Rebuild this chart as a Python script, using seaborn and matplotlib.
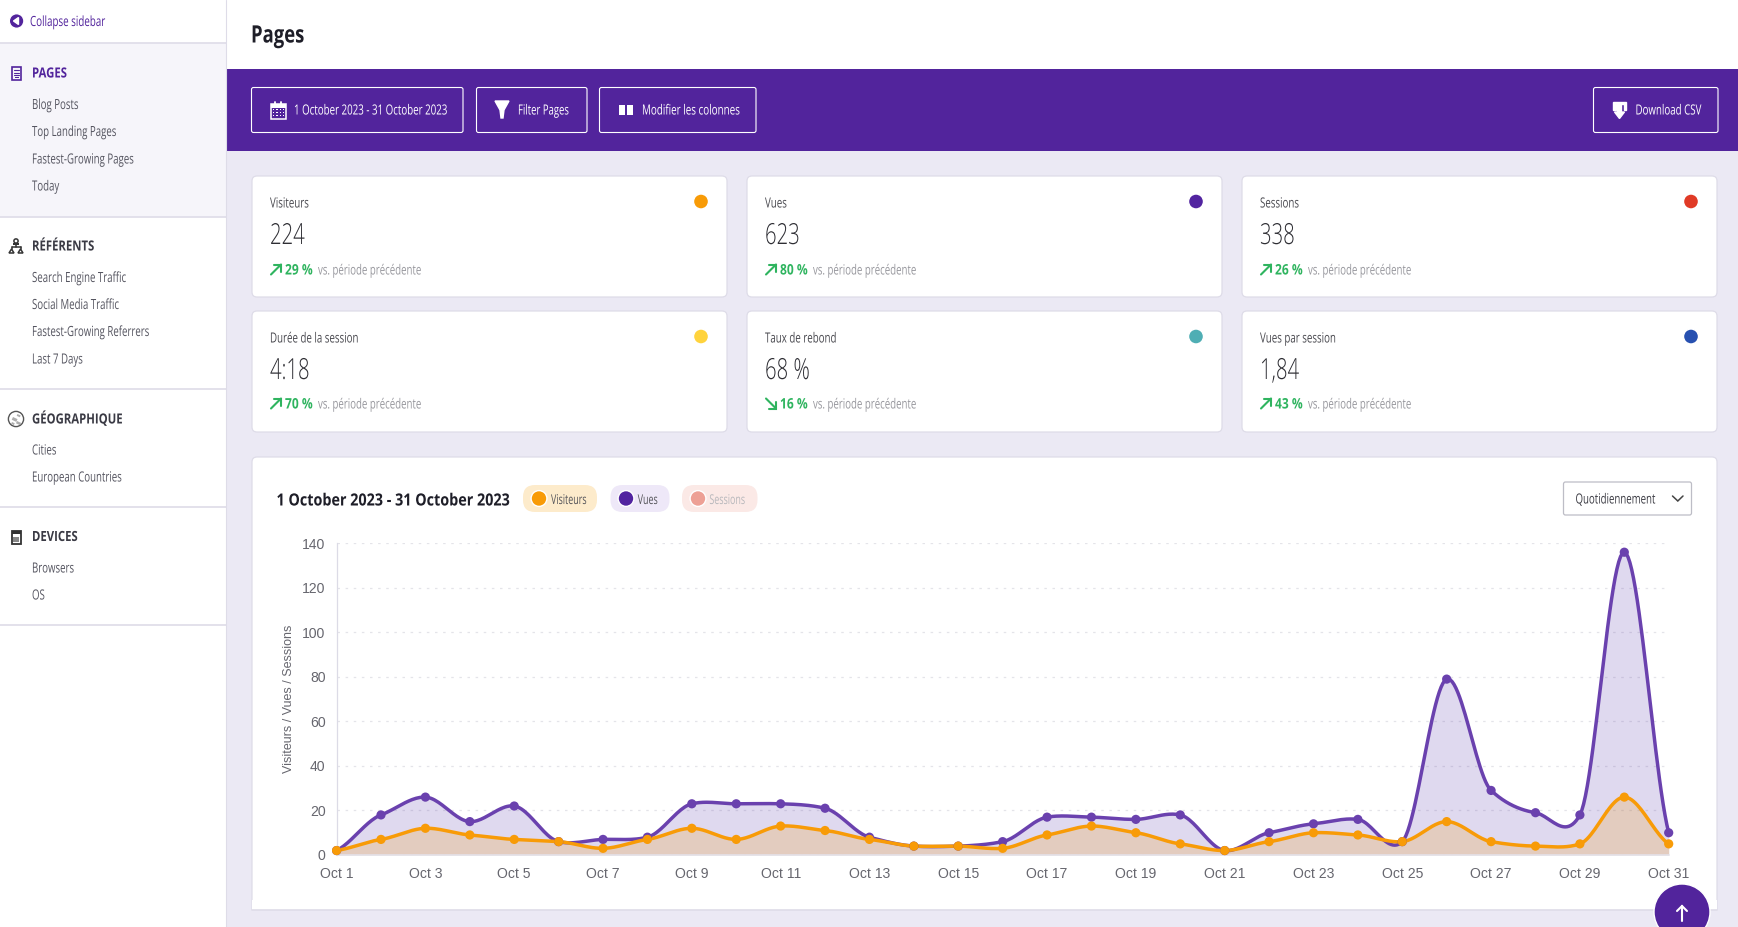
import numpy as np
import pandas as pd
import matplotlib
matplotlib.use("Agg")
import matplotlib.pyplot as plt
import seaborn as sns
from matplotlib.patches import FancyBboxPatch, Rectangle, Circle, Polygon
from matplotlib.patheffects import AbstractPathEffect
from matplotlib.transforms import Affine2D

# ---- data ----
days = list(range(1, 32))
visiteurs = [2, 7, 12, 9, 7, 6, 3, 7, 12, 7, 13, 11, 7, 4, 4, 3, 9, 13, 10, 5, 2, 6, 10, 9, 6, 15, 6, 4, 5, 26, 5]
vues = [2, 18, 26, 15, 22, 6, 7, 8, 23, 23, 23, 21, 8, 4, 4, 6, 17, 17, 16, 18, 2, 10, 14, 16, 6, 79, 29, 19, 18, 136, 10]
y_ticks = [0, 20, 40, 60, 80, 100, 120, 140]
tick_days = days[::2]
tick_labels = [f"Oct {d}" for d in tick_days]

card_labels = ["Visiteurs", "Vues", "Sessions", "Durée de la session", "Taux de rebond", "Vues par session"]
card_values = ["224", "623", "338", "4:18", "68 %", "1,84"]
card_trends = ["29 %", "80 %", "26 %", "70 %", "16 %", "43 %"]
card_colors = ["#F89B07", "#5224A0", "#E03A26", "#FFD33D", "#4FAEB4", "#2750B0"]
card_up = [True, True, True, True, False, True]

PURPLE = "#52249C"
LINE_PURPLE = "#6A41AE"
ORANGE = "#F89B07"
BG = "#EBE9F4"
BORDER = "#DEDCE8"
GREEN = "#2FB45F"

sns.set_theme(style="white")
plt.rcParams["font.family"] = ["Open Sans", "DejaVu Sans"]

fig = plt.figure(figsize=(17.38, 9.27), dpi=100, facecolor=BG)


class Condense(AbstractPathEffect):
    """Narrow real text horizontally around its origin."""
    def __init__(self, sx):
        super().__init__()
        self.sx = sx

    def draw_path(self, renderer, gc, tpath, affine, rgbFace=None):
        x0 = affine.get_matrix()[0, 2]
        aff = affine + Affine2D().translate(-x0, 0).scale(self.sx, 1).translate(x0, 0)
        renderer.draw_path(gc, tpath, aff, rgbFace)


def pixel_axes(z):
    a = fig.add_axes([0, 0, 1, 1], zorder=z)
    a.set_xlim(0, 1738)
    a.set_ylim(927, 0)
    a.axis("off")
    a.patch.set_alpha(0)
    return a


bg = pixel_axes(0)
top = pixel_axes(5)


def T(x, y, s, px, color="#555555", weight="normal", sx=0.7):
    return bg.text(x, y, s, fontsize=px * 0.72, color=color, fontweight=weight,
                   ha="left", va="baseline", path_effects=[Condense(sx)])


def R(x0, y0, x1, y1, fc, ec="none", lw=0, r=0, a=None):
    a = a or bg
    if r:
        p = FancyBboxPatch((x0, y0), x1 - x0, y1 - y0, boxstyle=f"round,pad=0,rounding_size={r}",
                           fc=fc, ec=ec, lw=lw)
    else:
        p = Rectangle((x0, y0), x1 - x0, y1 - y0, fc=fc, ec=ec, lw=lw)
    a.add_patch(p)
    return p


def L(xs, ys, c, lw=1.0, a=None):
    (a or bg).plot(xs, ys, color=c, lw=lw, solid_capstyle="round", solid_joinstyle="miter")


# ---- page chrome ----
R(0, 0, 226, 927, "white")
R(226, 0, 1738, 69, "white")
R(0, 43, 226, 217, "#F6F5FA")
for yy in [43, 217, 389, 507, 625]:
    L([0, 226], [yy, yy], BORDER, 1.2)
L([226, 226], [0, 927], BORDER, 0.8)
R(226, 69, 1738, 151, PURPLE)

# sidebar
bg.add_patch(Circle((16.6, 21), 7.3, fc=PURPLE))
bg.add_patch(Polygon([[13.5, 21], [18.5, 17.5], [18.5, 24.5]], fc="white"))
T(30, 26, "Collapse sidebar", 14, PURPLE, sx=0.7)
T(251, 42.5, "Pages", 24, "#1E1E28", "bold", sx=0.77)

sections = [("PAGES", 77.5, PURPLE), ("RÉFÉRENTS", 250.5, "#3A3A44"),
            ("GÉOGRAPHIQUE", 423.5, "#3A3A44"), ("DEVICES", 541, "#3A3A44")]
for s, y, c in sections:
    T(32, y, s, 14, c, "bold", sx=0.81)
links = [("Blog Posts", 109), ("Top Landing Pages", 136), ("Fastest-Growing Pages", 163.5), ("Today", 190.5),
         ("Search Engine Traffic", 282), ("Social Media Traffic", 309), ("Fastest-Growing Referrers", 336),
         ("Last 7 Days", 363.5), ("Cities", 454.5), ("European Countries", 481.5),
         ("Browsers", 572.5), ("OS", 599.5)]
for s, y in links:
    T(32, y, s, 14, "#555560", sx=0.69)

# sidebar icons
R(11.5, 66.5, 20.5, 79.5, "none", PURPLE, 1.2)
for yy, x1 in [(70, 18.5), (72.5, 18.5), (75, 18.5)]:
    L([13.5, x1], [yy, yy], PURPLE, 0.8)
R(15, 76.5, 18.5, 78, PURPLE)
L([16, 16], [243.5, 247], "#333", 1.1)
L([11.5, 20.5], [247, 247], "#333", 1.1)
L([11.5, 11.5], [247, 249], "#333", 1.1)
L([20.5, 20.5], [247, 249], "#333", 1.1)
bg.add_patch(Circle((16, 241), 2.1, fc="none", ec="#333", lw=1.1))
R(13, 243, 19, 244.5, "#333")
bg.add_patch(Polygon([[9, 253], [11.5, 249], [14, 253]], fc="none", ec="#333", lw=1.1))
bg.add_patch(Polygon([[18, 253], [20.5, 249], [23, 253]], fc="none", ec="#333", lw=1.1))
bg.add_patch(Circle((16, 419), 7.6, fc="none", ec="#555", lw=1.0))
for dx, dy, w, h in [(-3, -2, 5, 3), (1, 2, 4.5, 2.5), (-4, 3, 3, 2), (1.5, -5, 3.5, 2)]:
    bg.add_patch(Rectangle((16 + dx, 419 + dy), w, h, fc="#999", ec="none", alpha=0.8, angle=25))
R(11.5, 530.5, 20.5, 543.5, "none", "#333", 1.3)
R(11.5, 530.5, 20.5, 534, "#333")
R(13, 536.5, 19, 541.5, "#888")

# toolbar buttons
buttons = [(251.5, 463), (476.5, 587), (599.5, 756), (1593.5, 1718)]
for x0, x1 in buttons:
    R(x0, 87.5, x1, 132.5, "none", "white", 0.8, r=2)
T(294, 114.5, "1 October 2023 - 31 October 2023", 14, "white", sx=0.695)
T(518, 114.5, "Filter Pages", 14, "white", sx=0.68)
T(642, 114.5, "Modifier les colonnes", 14, "white", sx=0.704)
T(1635.5, 114.5, "Download CSV", 14, "white", sx=0.695)
# calendar icon
R(270.5, 104, 285.5, 118.5, "none", "white", 1.1)
R(270.5, 104, 285.5, 107.5, "white")
for xx in [275, 281]:
    L([xx, xx], [101.5, 105], "white", 1.3)
for xx in [273.5, 277, 280.5, 283.5]:
    for yy in [109.5, 112.5, 115.5]:
        R(xx - 0.9, yy - 0.9, xx + 0.9, yy + 0.9, "white")
# funnel
bg.add_patch(Polygon([[495, 101], [509, 101], [504, 110], [503, 118], [501, 118], [500, 110]], fc="white"))
# columns
R(619, 105, 625, 115, "white")
R(627, 105, 633, 115, "white")
# download
bg.add_patch(Polygon([[1613, 102], [1626, 102], [1626, 110], [1623.5, 110], [1623.5, 104], [1615.5, 104], [1615.5, 110], [1613, 110]], fc="white"))
bg.add_patch(Polygon([[1617.5, 105], [1621.5, 105], [1621.5, 112], [1624.5, 112], [1619.5, 118.5], [1614.5, 112], [1617.5, 112]], fc="white"))

# KPI cards
card_x = [252, 747, 1242]
card_y = [176, 311]
for i in range(6):
    x0 = card_x[i % 3]
    row = i // 3
    y0 = card_y[row]
    R(x0, y0, x0 + 475, y0 + 121, "white", BORDER, 0.9, r=5)
    T(x0 + 18, y0 + 31.5, card_labels[i], 14, "#4A4A50", sx=0.695)
    T(x0 + 18, y0 + 68, card_values[i], 29, "#2E2E34", "light", sx=0.7)
    by = y0 + 98.5 if row == 0 else y0 + 97.5
    T(x0 + 33, by, card_trends[i], 14.5, GREEN, "bold", sx=0.83)
    T(x0 + 66, by, "vs. période précédente", 14, "#98989E", sx=0.69)
    ax0, ax1 = x0 + 19, x0 + 29
    if card_up[i]:
        L([ax0, ax1], [by, by - 10], GREEN, 1.5)
        L([ax0 + 3, ax1, ax1], [by - 10, by - 10, by - 3], GREEN, 1.5)
    else:
        L([ax0, ax1], [by - 10, by], GREEN, 1.5)
        L([ax0 + 3, ax1, ax1], [by, by, by - 7], GREEN, 1.5)
    bg.add_patch(Circle((x0 + 449, y0 + 25.5), 7.5, fc=card_colors[i]))

# chart card
R(252, 457, 1717, 915, "white", BORDER, 0.9, r=5)
bg.add_patch(Rectangle((240, 910), 1498, 17, fc=BG, ec="none"))
R(252, 900, 1717, 910, "white", "none", 0)
L([252, 1717], [910, 910], BORDER, 1.2)
T(276.5, 505.5, "1 October 2023 - 31 October 2023", 16.8, "#1E1E28", "bold", sx=0.855)

pills = [(523, 597, "#FDEBCB", ORANGE, 539, 551, "Visiteurs", "#55555A", 0.66),
         (610.5, 669.5, "#EEE8F8", "#5224A0", 626, 637.7, "Vues", "#55555A", 0.66),
         (682, 757.5, "#FBE9E6", "#EDA095", 698, 709.4, "Sessions", "#B8B8BC", 0.66)]
for x0, x1, fc, dot, cx, tx, lab, col, sx in pills:
    R(x0, 485, x1, 512, fc, r=12)
    bg.add_patch(Circle((cx, 498.5), 7.9, fc=dot))
    T(tx, 504, lab, 13.5, col, sx=sx)

# select box
R(1563.5, 482, 1691.5, 515, "white", "#BDBDC6", 0.9, r=2)
T(1575.5, 503.5, "Quotidiennement", 14, "#3C3C44", sx=0.69)
L([1672.5, 1677.8, 1683], [496, 501, 496], "#444", 1.1)

# ---- chart ----
AX_L, AX_R, AX_T, AX_B = 336.6, 1668.7, 543.3, 855.0
ax = fig.add_axes([AX_L / 1738, 1 - AX_B / 927, (AX_R - AX_L) / 1738, (AX_B - AX_T) / 927], zorder=2)
ax.patch.set_alpha(0)

TANGENT = 0.62


def curve(x, y, n=24):
    """Smooth cubic drawing path through the read values."""
    x = np.asarray(x, float)
    y = np.asarray(y, float)
    m = np.gradient(y, x) * TANGENT
    t = np.linspace(0, 1, n, endpoint=False)
    xs, ys = [], []
    for i in range(len(x) - 1):
        dx = x[i + 1] - x[i]
        xs.append(x[i] + t * dx)
        ys.append((2 * t ** 3 - 3 * t ** 2 + 1) * y[i] + (t ** 3 - 2 * t ** 2 + t) * dx * m[i]
                  + (-2 * t ** 3 + 3 * t ** 2) * y[i + 1] + (t ** 3 - t ** 2) * dx * m[i + 1])
    return np.r_[np.concatenate(xs), x[-1]], np.r_[np.concatenate(ys), y[-1]]


raw = pd.DataFrame({"day": days * 2, "value": vues + visiteurs,
                    "serie": ["Vues"] * 31 + ["Visiteurs"] * 31})
palette = {"Vues": LINE_PURPLE, "Visiteurs": ORANGE}
smooth_rows = []
for name, vals in (("Vues", vues), ("Visiteurs", visiteurs)):
    sx_, sy_ = curve(days, vals)
    smooth_rows.append(pd.DataFrame({"day": sx_, "value": sy_, "serie": name}))
    ax.fill_between(sx_, np.maximum(sy_, 0), 0, lw=0, zorder=1,
                    color="#512DA8" if name == "Vues" else "#F59B00",
                    alpha=0.18 if name == "Vues" else 0.2)
smooth = pd.concat(smooth_rows, ignore_index=True)

sns.lineplot(data=smooth, x="day", y="value", hue="serie", palette=palette, hue_order=["Vues", "Visiteurs"],
             linewidth=2.5, estimator=None, sort=False, legend=False, ax=ax, zorder=3, clip_on=False)
sns.scatterplot(data=raw, x="day", y="value", hue="serie", palette=palette, hue_order=["Vues", "Visiteurs"],
                s=44, linewidth=0, legend=False, ax=ax, zorder=4, clip_on=False)

ax.set_xlim(1, 31)
ax.set_ylim(0, 140)
ax.set_xticks(tick_days)
ax.set_xticklabels(tick_labels)
ax.set_yticks(y_ticks)
TICKFONT = ["Liberation Sans", "DejaVu Sans"]
ax.tick_params(axis="x", length=5.5, width=0.9, color="#DCDBE6", labelsize=10.1, labelcolor="#66666E", pad=3.5)
ax.tick_params(axis="y", length=6, width=0.8, color="#DCDBE6", labelsize=10.1, labelcolor="#66666E", pad=2)
for lab in ax.get_xticklabels() + ax.get_yticklabels():
    lab.set_fontfamily(TICKFONT)
ax.set_xlabel("")
ax.set_ylabel("Visiteurs / Vues / Sessions", fontsize=9.0, color="#66666E", family=TICKFONT)
ax.yaxis.set_label_coords((288.5 - AX_L) / (AX_R - AX_L), (AX_B - 699) / (AX_B - AX_T))
ax.yaxis.label.set_va("center")
ax.grid(axis="y", color="#E4E4E9", lw=0.9, linestyle=(0, (2, 4.5)))
ax.grid(axis="x", visible=False)
ax.set_axisbelow(True)
sns.despine(ax=ax, top=True, right=True)
ax.spines["left"].set_color("#DCDBE6")
ax.spines["bottom"].set_color("#E4E3EC")
ax.spines["left"].set_linewidth(0.9)
ax.spines["bottom"].set_linewidth(1.1)

# floating button
top.add_patch(Circle((1682, 912), 28, fc=PURPLE, clip_on=True))
L([1682, 1682], [906, 921], "white", 1.5, top)
L([1677, 1682, 1687], [911, 906, 911], "white", 1.5, top)

fig.savefig("out.png", dpi=100, facecolor=BG)
